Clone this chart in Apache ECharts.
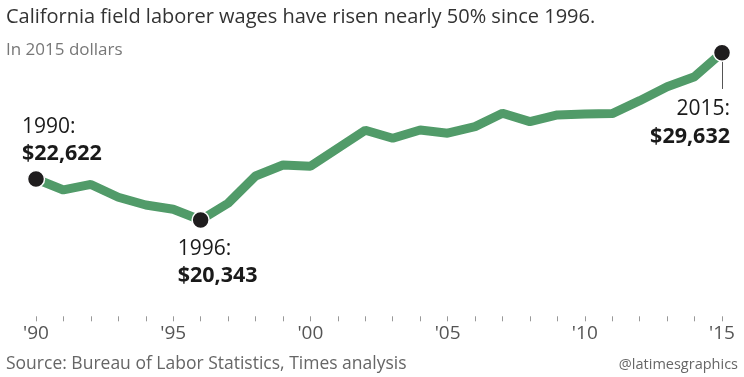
<!DOCTYPE html>
<html><head><meta charset="utf-8">
<script src="https://cdn.jsdelivr.net/npm/echarts@6/dist/echarts.min.js"></script>
<style>html,body{margin:0;padding:0;background:#fff}#c{width:744px;height:377px}</style>
</head><body><div id="c"></div>
<script>
const years = [1990,1991,1992,1993,1994,1995,1996,1997,1998,1999,2000,2001,2002,2003,2004,2005,2006,2007,2008,2009,2010,2011,2012,2013,2014,2015];
const wages = [22622,22012,22317,21607,21179,20941,20343,21274,22789,23399,23327,24326,25325,24881,25342,25159,25525,26269,25802,26174,26230,26250,26968,27745,28300,29632];
const tickLabels = {1990:"'90",1995:"'95",2000:"'00",2005:"'05",2010:"'10",2015:"'15"};
const highlightYears = [1990,1996,2015];
const highlightValues = ["$22,622","$20,343","$29,632"];
const leaderEnd = 27617;

const FONT = '"Open Sans"';
const chart = echarts.init(document.getElementById('c'), null, {renderer:'canvas'});

const labelCfg = {
  1990: {position:'top', align:'left', distance:2, offset:[-14,0]},
  1996: {position:'bottom', align:'left', distance:6, offset:[-23,0]},
  2015: {position:'bottom', align:'right', distance:34, offset:[8,0]}
};

const hlData = highlightYears.map((y,i)=>({
  value:[y, wages[years.indexOf(y)]],
  label:Object.assign({
    show:true,
    formatter:'{a|'+y+':}\n{b|'+highlightValues[i]+'}',
    rich:{
      a:{fontFamily:FONT,fontSize:21,color:'#1a1a1a',lineHeight:27,fontWeight:'normal'},
      b:{fontFamily:FONT,fontSize:21.5,color:'#1a1a1a',fontWeight:'bold',lineHeight:27}
    }
  }, labelCfg[y])
}));

chart.setOption({
  animation:false,
  title:[
    {text:'California field laborer wages have risen nearly 50% since 1996.',left:6,top:7,padding:0,
     textStyle:{fontFamily:FONT,fontSize:20,fontWeight:'normal',color:'#333'}},
    {text:'In 2015 dollars',left:6,top:42,padding:0,textStyle:{fontFamily:FONT,fontSize:17,fontWeight:'normal',color:'#777'}},
    {text:'Source: Bureau of Labor Statistics, Times analysis',left:6,top:355,padding:0,textStyle:{fontFamily:FONT,fontSize:17.5,fontWeight:'normal',color:'#666'}},
    {text:'@latimesgraphics',right:6,top:357,padding:0,textStyle:{fontFamily:FONT,fontSize:14.5,fontWeight:'normal',color:'#666'}}
  ],
  grid:{left:36,right:22,top:28,bottom:60.7},
  xAxis:{type:'value',min:1990,max:2015,interval:1,
    axisLine:{show:false},
    axisTick:{show:true,length:5,lineStyle:{color:'#999',width:1}},
    splitLine:{show:false},
    axisLabel:{margin:8,fontFamily:FONT,fontSize:19,color:'#555',
      formatter:v=>tickLabels[v]||''}
  },
  yAxis:{type:'value',min:15000,max:31000,show:false,splitLine:{show:false}},
  series:[
    {type:'line',data:years.map((y,i)=>[y,wages[i]]),symbol:'none',
     lineStyle:{color:'#519b69',width:9},z:2,
     markLine:{silent:true,symbol:'none',label:{show:false},
       lineStyle:{color:'#555',width:1,type:'solid'},
       data:[[{coord:[2015,wages[wages.length-1]]},{coord:[2015,leaderEnd]}]]}
    },
    {type:'scatter',data:hlData,symbolSize:17,z:5,
     itemStyle:{color:'#1f1d1e',borderColor:'#fff',borderWidth:1.5,opacity:1}}
  ]
});
</script></body></html>
